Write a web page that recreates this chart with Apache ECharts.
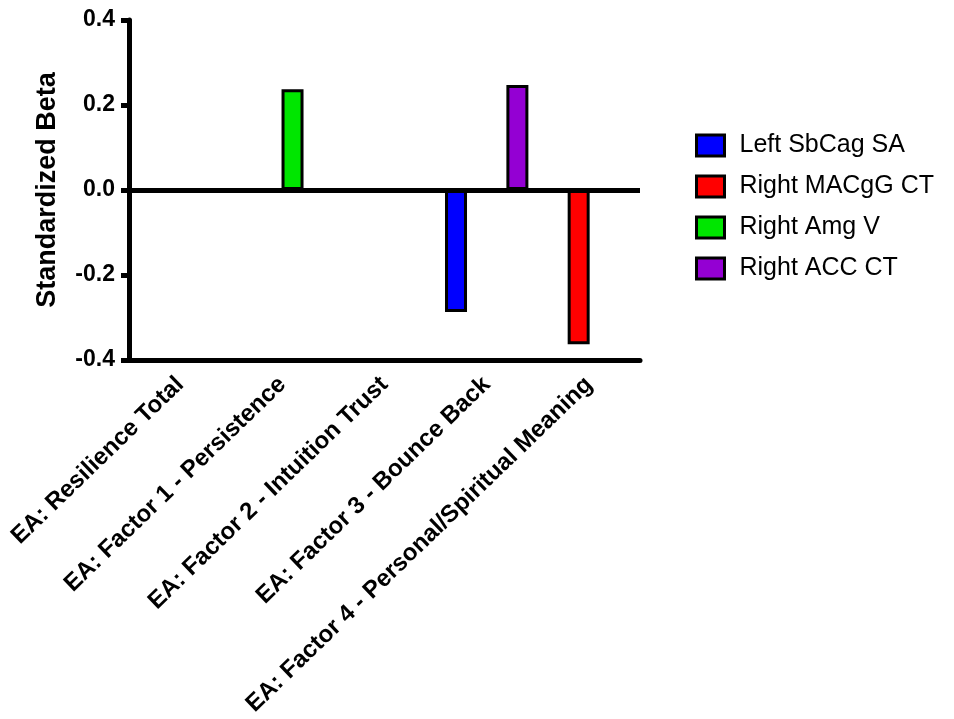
<!DOCTYPE html>
<html>
<head>
<meta charset="utf-8">
<script src="https://cdn.jsdelivr.net/npm/echarts@6/dist/echarts.min.js"></script>
<style>
  html, body { margin: 0; padding: 0; background: #fff; }
  #chart { width: 954px; height: 719px; }
</style>
</head>
<body>
<div id="chart"></div>
<script>
// Outcome measures on the category axis
const categories = [
  'EA: Resilience Total',
  'EA: Factor 1 - Persistence',
  'EA: Factor 2 - Intuition Trust',
  'EA: Factor 3 - Bounce Back',
  'EA: Factor 4 - Personal/Spiritual Meaning'
];

// Standardized beta per brain measure (null = no significant association)
const leftSbCagSA  = [null, null, null, -0.287, null];
const rightMACgGCT = [null, null, null, null, -0.363];
const rightAmgV    = [null, 0.237, null, null, null];
const rightACCCT   = [null, null, null, 0.247, null];

const seriesNames  = ['Left SbCag SA', 'Right MACgG CT', 'Right Amg V', 'Right ACC CT'];
const seriesValues = [leftSbCagSA, rightMACgGCT, rightAmgV, rightACCCT];
const seriesColors = ['#0000ff', '#ff0000', '#00e600', '#9400d3'];

const yTicks = { min: -0.4, max: 0.4, step: 0.2 };

const FONT = '"Liberation Sans", Arial, Helvetica, sans-serif';

const chart = echarts.init(document.getElementById('chart'), null, { renderer: 'canvas' });

const series = seriesNames.map((name, i) => {
  const s = {
    name: name,
    type: 'bar',
    data: seriesValues[i],
    barWidth: 22,
    barGap: '-7%',
    itemStyle: { color: seriesColors[i], borderColor: '#000', borderWidth: 3 },
    emphasis: { disabled: true },
    animation: false
  };
  if (i === 0) {
    // Thick reference line at zero
    s.markLine = {
      silent: true,
      symbol: 'none',
      label: { show: false },
      lineStyle: { color: '#000', width: 5, type: 'solid' },
      data: [{ yAxis: 0 }],
      animation: false
    };
  }
  return s;
});

chart.setOption({
  backgroundColor: '#fff',
  animation: false,
  grid: { left: 129, right: 314, top: 20, bottom: 359, containLabel: false },
  legend: {
    orient: 'vertical',
    left: 690,
    top: 128,
    itemWidth: 28,
    itemHeight: 21,
    itemGap: 16,
    icon: 'rect',
    itemStyle: { borderColor: '#000', borderWidth: 3 },
    textStyle: { fontFamily: FONT, fontSize: 25, color: '#000', padding: [0, 0, 0, 10] },
    data: seriesNames
  },
  xAxis: {
    type: 'category',
    data: categories,
    axisLine: { onZero: false, lineStyle: { color: '#000', width: 5 } },
    axisTick: { alignWithLabel: true, length: 8, lineStyle: { color: '#000', width: 5 } },
    axisLabel: {
      rotate: 44,
      interval: 0,
      margin: 21,
      fontFamily: FONT,
      fontWeight: 'bold',
      fontSize: 24,
      color: '#000'
    },
    splitLine: { show: false }
  },
  yAxis: {
    type: 'value',
    min: yTicks.min,
    max: yTicks.max,
    interval: yTicks.step,
    name: 'Standardized Beta',
    nameLocation: 'middle',
    nameGap: 68,
    nameTextStyle: { fontFamily: FONT, fontWeight: 'bold', fontSize: 27, color: '#000' },
    axisLine: { show: true, lineStyle: { color: '#000', width: 5 } },
    axisTick: { show: true, length: 8, lineStyle: { color: '#000', width: 5 } },
    axisLabel: {
      margin: 14,
      fontFamily: FONT,
      fontWeight: 'bold',
      fontSize: 23,
      color: '#000',
      formatter: v => v.toFixed(1)
    },
    splitLine: { show: false }
  },
  series: series
});
</script>
</body>
</html>
